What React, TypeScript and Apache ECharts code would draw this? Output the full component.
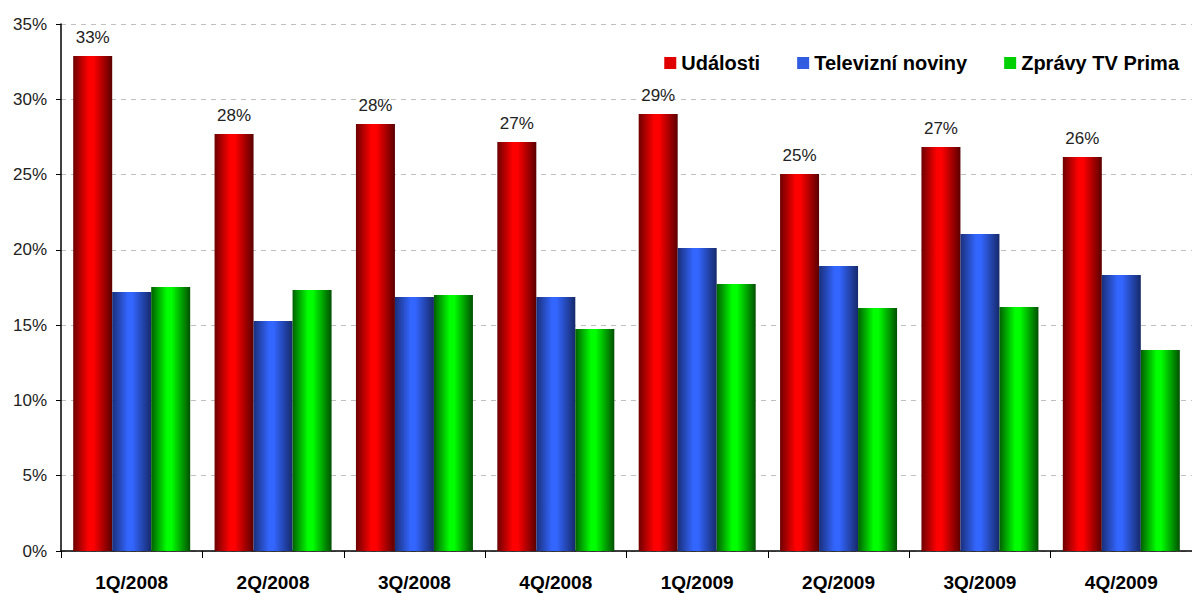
import React, { useEffect, useRef } from "react";
import * as echarts from "echarts";

const categories = ["1Q/2008", "2Q/2008", "3Q/2008", "4Q/2008", "1Q/2009", "2Q/2009", "3Q/2009", "4Q/2009"];
const seriesNames = ["Události", "Televizní noviny", "Zprávy TV Prima"];
const udalosti = [32.87, 27.7, 28.36, 27.16, 29.02, 25.04, 26.83, 26.17];
const televizni = [17.2, 15.28, 16.87, 16.87, 20.12, 18.93, 21.05, 18.33];
const prima = [17.53, 17.33, 17.0, 14.74, 17.73, 16.14, 16.2, 13.35];
const yTicks = [0, 5, 10, 15, 20, 25, 30, 35];

const grad = (edgeL: string, mid: string, edgeR: string) =>
  new echarts.graphic.LinearGradient(0, 0, 1, 0, [
    { offset: 0, color: edgeL },
    { offset: 0.4, color: mid },
    { offset: 0.52, color: mid },
    { offset: 1, color: edgeR },
  ]);

export default function App() {
  const ref = useRef<HTMLDivElement>(null);
  useEffect(() => {
    if (!ref.current) return;
    const chart = echarts.init(ref.current, null, { renderer: "svg" });
    const font = "'Liberation Sans', Arial, sans-serif";
    const colors = [
      grad("#6e0000", "#ff0000", "#5a0000"),
      grad("#1a2f7a", "#3366ff", "#16296a"),
      grad("#006000", "#00ff00", "#005000"),
    ];
    const flat = ["#e00000", "#2f5ce0", "#00d000"];
    const data = [udalosti, televizni, prima];
    chart.setOption({
      animation: false,
      textStyle: { fontFamily: font },
      legend: {
        top: 48,
        right: 8,
        itemWidth: 12,
        itemHeight: 12,
        itemGap: 37,
        icon: "rect",
        textStyle: { fontFamily: font, fontSize: 20, fontWeight: "bold", color: "#000" },
        data: seriesNames.map((n, i) => ({ name: n, itemStyle: { color: flat[i] } })),
      },
      grid: { left: 61, top: 24, width: 1137, height: 527, containLabel: false },
      xAxis: {
        type: "category",
        data: categories,
        axisLine: { lineStyle: { color: "#000", width: 1.5 } },
        axisTick: { show: true, length: 7, lineStyle: { color: "#000" }, alignWithLabel: false },
        axisLabel: { fontFamily: font, fontSize: 19, fontWeight: "bold", color: "#000", margin: 22 },
      },
      yAxis: {
        type: "value",
        min: 0,
        max: 35,
        interval: 5,
        axisLine: { show: true, lineStyle: { color: "#000", width: 1.5 } },
        axisTick: { show: true, length: 5, lineStyle: { color: "#000" } },
        axisLabel: {
          fontFamily: font,
          fontSize: 17,
          color: "#222",
          margin: 14,
          formatter: (v: number) => (yTicks.includes(v) ? v + "%" : ""),
        },
        splitLine: { show: true, lineStyle: { color: "#c0c0c0", type: [5, 5], width: 1 } },
      },
      series: seriesNames.map((n, i) => ({
        name: n,
        type: "bar",
        data: data[i],
        barWidth: 39,
        barGap: "0%",
        itemStyle: { color: colors[i] },
        label:
          i === 0
            ? {
                show: true,
                position: "top",
                distance: 10,
                fontFamily: font,
                fontSize: 17,
                color: "#222",
                formatter: (p: any) => Math.round(p.value) + "%",
              }
            : { show: false },
      })),
    });
    return () => chart.dispose();
  }, []);
  return (
    <div
      ref={ref}
      style={{ position: "fixed", left: 0, top: 0, width: 1192, height: 593, background: "#fff" }}
    />
  );
}
